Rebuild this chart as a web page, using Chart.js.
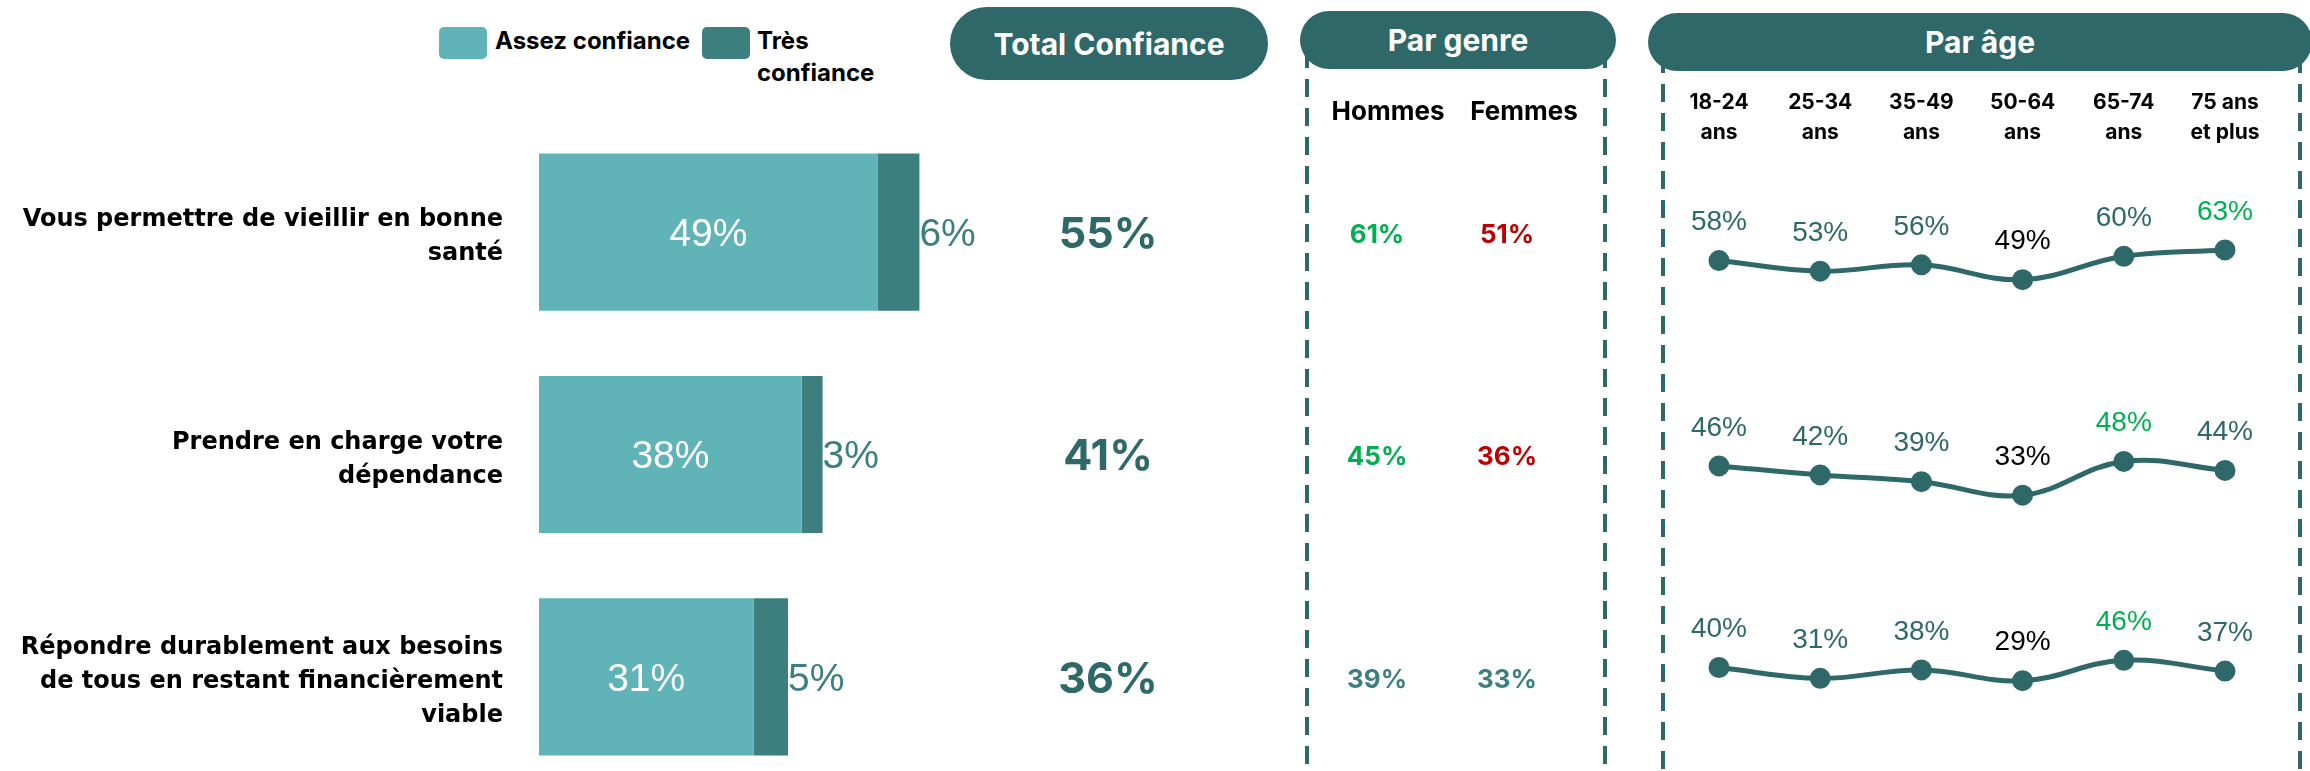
<!DOCTYPE html>
<html lang="fr">
<head>
<meta charset="utf-8">
<title>Confiance</title>
<script src="https://cdn.jsdelivr.net/npm/chart.js@4.4.1/dist/chart.umd.min.js"></script>
<style>
    html, body { margin: 0; padding: 0; width: 2310px; height: 771px; overflow: hidden; background: #fff; }
    #page { position: relative; width: 2310px; height: 771px; font-family: Inter, "Open Sans", sans-serif; }
    canvas { position: absolute; top: 0; }
    .pill { position: absolute; background: #2f6868; color: #fff; font-weight: 700; font-size: 30px;
            display: flex; align-items: center; justify-content: center; border-radius: 40px; }
    .dash { position: absolute; width: 4px;
            background: repeating-linear-gradient(to bottom, #2f6868 0 18px, transparent 18px 29px); }
    .legend-box { position: absolute; top: 27px; width: 48px; height: 32px; border-radius: 5px; }
    .legend-text { position: absolute; top: 25px; font-weight: 700; font-size: 24px; line-height: 32px; color: #000; }
</style>
</head>
<body>
<div id="page">
    <div class="legend-box" style="left:439px; background:#60b4b7"></div>
    <div class="legend-text" style="left:495px">Assez confiance</div>
    <div class="legend-box" style="left:702px; background:#3d7f7f"></div>
    <div class="legend-text" style="left:757px">Très<br>confiance</div>

    <div class="dash" style="left:1305px; top:50px; height:721px"></div>
    <div class="dash" style="left:1603px; top:50px; height:721px"></div>
    <div class="dash" style="left:1661px; top:55px; height:716px"></div>
    <div class="dash" style="left:2298px; top:55px; height:716px"></div>

    <div class="pill" style="left:950px; top:7px; width:318px; height:73px">Total Confiance</div>
    <div class="pill" style="left:1300px; top:11px; width:316px; height:58px">Par genre</div>
    <div class="pill" style="left:1648px; top:13px; width:664px; height:58px">Par âge</div>

    <canvas id="barChart" width="1640" height="788" style="left:0"></canvas>
    <canvas id="ageChart" width="670" height="771" style="left:1640px"></canvas>
</div>

<script>
    const categories = [
        ['Vous permettre de vieillir en bonne', 'santé'],
        ['Prendre en charge votre', 'dépendance'],
        ['Répondre durablement aux besoins', 'de tous en restant financièrement', 'viable']
    ];
    const assezConfiance = [49, 38, 31];
    const tresConfiance = [6, 3, 5];
    const totalConfiance = [55, 41, 36];

    const genreLabels = ['Hommes', 'Femmes'];
    const hommes = [61, 45, 39];
    const femmes = [51, 36, 33];
    const hommesSig = ['up', 'up', 'none'];
    const femmesSig = ['down', 'down', 'none'];

    const ageLabels = [['18-24', 'ans'], ['25-34', 'ans'], ['35-49', 'ans'], ['50-64', 'ans'], ['65-74', 'ans'], ['75 ans', 'et plus']];
    const ageSante = [58, 53, 56, 49, 60, 63];
    const ageDependance = [46, 42, 39, 33, 48, 44];
    const ageBesoins = [40, 31, 38, 29, 46, 37];
    const ageSig = [
        ['none', 'none', 'none', 'ref', 'none', 'up'],
        ['none', 'none', 'none', 'ref', 'up', 'none'],
        ['none', 'none', 'none', 'ref', 'up', 'none']
    ];

    const DARK = '#2f6868';
    const LIGHT_BAR = '#60b4b7';
    const DARK_BAR = '#3d7f7f';
    const sigColors = { up: '#00b050', down: '#c00000', none: DARK_BAR, ref: '#000' };
    const ageColors = { up: '#00b050', down: '#c00000', none: DARK, ref: '#000' };

    const barLabels = {
        id: 'barLabels',
        afterDatasetsDraw(chart) {
            const ctx = chart.ctx;
            const m0 = chart.getDatasetMeta(0);
            const m1 = chart.getDatasetMeta(1);
            ctx.save();
            ctx.textBaseline = 'middle';

            ctx.font = '700 26px Inter';
            ctx.fillStyle = '#000';
            ctx.textAlign = 'center';
            ctx.fillText(genreLabels[0], 1388, 112);
            ctx.fillText(genreLabels[1], 1524, 112);

            m0.data.forEach((bar, i) => {
                const y = bar.y + 3;
                ctx.font = '39px "Liberation Sans"';
                ctx.fillStyle = '#fff';
                ctx.textAlign = 'center';
                ctx.fillText(assezConfiance[i] + '%', (bar.base + bar.x) / 2, y);

                ctx.fillStyle = DARK_BAR;
                ctx.textAlign = 'left';
                ctx.fillText(tresConfiance[i] + '%', m1.data[i].x, y);

                ctx.font = '700 43px Inter';
                ctx.fillStyle = DARK;
                ctx.textAlign = 'center';
                ctx.fillText(totalConfiance[i] + '%', 1108, y);

                ctx.font = '700 26px Inter';
                ctx.fillStyle = sigColors[hommesSig[i]];
                ctx.fillText(hommes[i] + '%', 1377, y);
                ctx.fillStyle = sigColors[femmesSig[i]];
                ctx.fillText(femmes[i] + '%', 1507, y);
            });
            ctx.restore();
        }
    };

    new Chart(document.getElementById('barChart'), {
        type: 'bar',
        data: {
            labels: categories,
            datasets: [
                { label: 'Assez confiance', data: assezConfiance, backgroundColor: LIGHT_BAR },
                { label: 'Très confiance', data: tresConfiance, backgroundColor: DARK_BAR }
            ]
        },
        options: {
            indexAxis: 'y',
            responsive: false,
            animation: false,
            barPercentage: 0.707,
            categoryPercentage: 1,
            layout: { padding: { top: 121, right: 686, bottom: 0, left: 0 } },
            plugins: { legend: { display: false }, tooltip: { enabled: false } },
            scales: {
                x: { stacked: true, min: 0, max: 60, display: false },
                y: {
                    stacked: true,
                    grid: { display: false, drawTicks: false },
                    border: { display: false },
                    ticks: {
                        color: '#000',
                        padding: 36,
                        labelOffset: 5,
                        font: { family: 'DejaVu Sans', weight: '700', size: 24, lineHeight: 1.42 }
                    },
                    afterFit: scale => {
                        scale.width = 539;
                        scale.paddingTop = 0;
                        scale.paddingBottom = 0;
                    }
                }
            }
        },
        plugins: [barLabels]
    });

    // one hidden y axis per row, so each row keeps its own vertical scale
    const AGE_H = 771;
    function rowAxis(yPix, value, pxPerPct) {
        const max = value + yPix / pxPerPct;
        return { display: false, bounds: 'data', min: max - AGE_H / pxPerPct, max: max };
    }

    const ageText = {
        id: 'ageText',
        afterDatasetsDraw(chart) {
            const ctx = chart.ctx;
            const xScale = chart.scales.x;
            ctx.save();
            ctx.textAlign = 'center';
            ctx.textBaseline = 'middle';
            ctx.font = '700 21px Inter';
            ctx.fillStyle = '#000';
            ageLabels.forEach((lines, i) => {
                const x = xScale.getPixelForValue(i);
                lines.forEach((line, j) => ctx.fillText(line, x, 103 + j * 30));
            });
            ctx.font = '28px "Liberation Sans"';
            chart.data.datasets.forEach((ds, k) => {
                chart.getDatasetMeta(k).data.forEach((pt, i) => {
                    ctx.fillStyle = ageColors[ageSig[k][i]];
                    ctx.fillText(ds.data[i] + '%', pt.x, pt.y - 38);
                });
            });
            ctx.restore();
        }
    };

    const ageRows = [ageSante, ageDependance, ageBesoins];
    new Chart(document.getElementById('ageChart'), {
        type: 'line',
        data: {
            labels: ageLabels,
            datasets: ageRows.map((row, k) => ({
                data: row,
                yAxisID: 'y' + k,
                borderColor: DARK,
                backgroundColor: DARK,
                borderWidth: 5,
                pointRadius: 8,
                tension: 0.4,
                clip: false
            }))
        },
        options: {
            responsive: false,
            animation: false,
            layout: { padding: { top: 0, bottom: 0, left: 79, right: 85 } },
            plugins: { legend: { display: false }, tooltip: { enabled: false } },
            scales: {
                x: { display: false, offset: false },
                y0: rowAxis(276, 49, 2.2),
                y1: rowAxis(499, 33, 2.33),
                y2: rowAxis(691, 29, 1.24)
            }
        },
        plugins: [ageText]
    });
</script>
</body>
</html>
